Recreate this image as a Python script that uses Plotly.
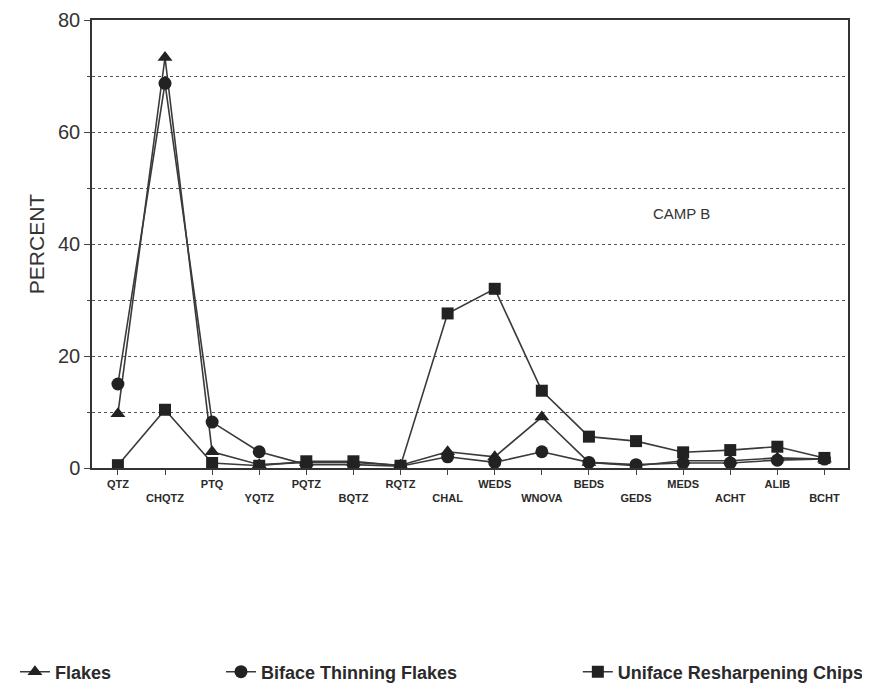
import plotly.graph_objects as go

categories = ["QTZ", "CHQTZ", "PTQ", "YQTZ", "PQTZ", "BQTZ", "RQTZ", "CHAL",
              "WEDS", "WNOVA", "BEDS", "GEDS", "MEDS", "ACHT", "ALIB", "BCHT"]
flakes = [9.7, 73.3, 2.9, 0.6, 1.0, 1.0, 0.5, 2.9, 2.0, 9.1, 1.0, 0.4, 1.3, 1.3, 1.8, 1.6]
biface = [15.0, 68.7, 8.2, 2.9, 0.6, 0.6, 0.3, 2.0, 1.0, 2.9, 1.0, 0.6, 0.9, 0.9, 1.4, 1.6]
uniface = [0.5, 10.4, 0.9, 0.4, 1.2, 1.2, 0.4, 27.6, 32.0, 13.8, 5.6, 4.8, 2.8, 3.2, 3.8, 1.8]
y_ticks = [0, 20, 40, 60, 80]

series = [
    ("Flakes", flakes, "triangle-up", "legend"),
    ("Biface Thinning Flakes", biface, "circle", "legend2"),
    ("Uniface Resharpening Chips", uniface, "square", "legend3"),
]

x_idx = list(range(len(categories)))
# staggered tick labels: odd positions pushed down one row
tick_text = ["<b>" + c + "</b>" if i % 2 == 0 else "<br><b>" + c + "</b>"
             for i, c in enumerate(categories)]

fig = go.Figure()
for name, vals, sym, leg in series:
    fig.add_trace(go.Scatter(
        x=x_idx, y=vals, name="<b>" + name + "</b>", mode="lines+markers",
        line=dict(color="#3a3a3a", width=1.6),
        marker=dict(symbol=sym, size=13 if sym != "square" else 12, color="#222222",
                    line=dict(width=0)),
        legend=leg,
    ))

leg_font = dict(family="Liberation Sans, Arial", size=18, color="#2a2a2a")
common_leg = dict(orientation="h", xref="container", yref="container",
                  yanchor="middle", y=0.0349, xanchor="left",
                  font=leg_font, bgcolor="rgba(0,0,0,0)", itemwidth=30)

fig.update_layout(
    width=870, height=688,
    margin=dict(l=84, r=30, t=12, b=228, autoexpand=False),
    paper_bgcolor="white", plot_bgcolor="white",
    showlegend=True,
    legend=dict(x=0.008, **common_leg),
    legend2=dict(x=0.2448, **common_leg),
    legend3=dict(x=0.655, **common_leg),
    annotations=[dict(text="CAMP B", x=0.78, y=45.5, xref="paper", yref="y",
                      showarrow=False, xanchor="center", yanchor="middle",
                      font=dict(family="Liberation Sans, Arial", size=15, color="#333333"))],
)

fig.update_xaxes(
    range=[-0.55, 15.5], tickmode="array", tickvals=x_idx, ticktext=tick_text,
    ticks="outside", ticklen=5, tickcolor="#444", showgrid=False, automargin=False,
    showline=True, linecolor="#333", linewidth=1.5, mirror=True, zeroline=False,
    tickfont=dict(family="Liberation Sans, Arial", size=11, color="#2a2a2a"),
)
fig.update_yaxes(
    range=[0, 80], tickmode="array", tickvals=y_ticks, ticks="outside", ticklen=6,
    tickcolor="#444", showline=True, linecolor="#333", linewidth=1.5, mirror=True,
    zeroline=False, showgrid=True, gridcolor="#555", griddash="dot", gridwidth=1,
    automargin=False, ticklabeloverflow="allow",
    minor=dict(tickvals=[10, 30, 50, 70], showgrid=True, gridcolor="#555",
               griddash="dot", ticks="outside", ticklen=3, tickcolor="#444"),
    title=dict(text="PERCENT", font=dict(family="Liberation Sans, Arial", size=21,
                                         color="#333"), standoff=8),
    tickfont=dict(family="Liberation Sans, Arial", size=20, color="#333"),
)

fig.write_html("out.html")
